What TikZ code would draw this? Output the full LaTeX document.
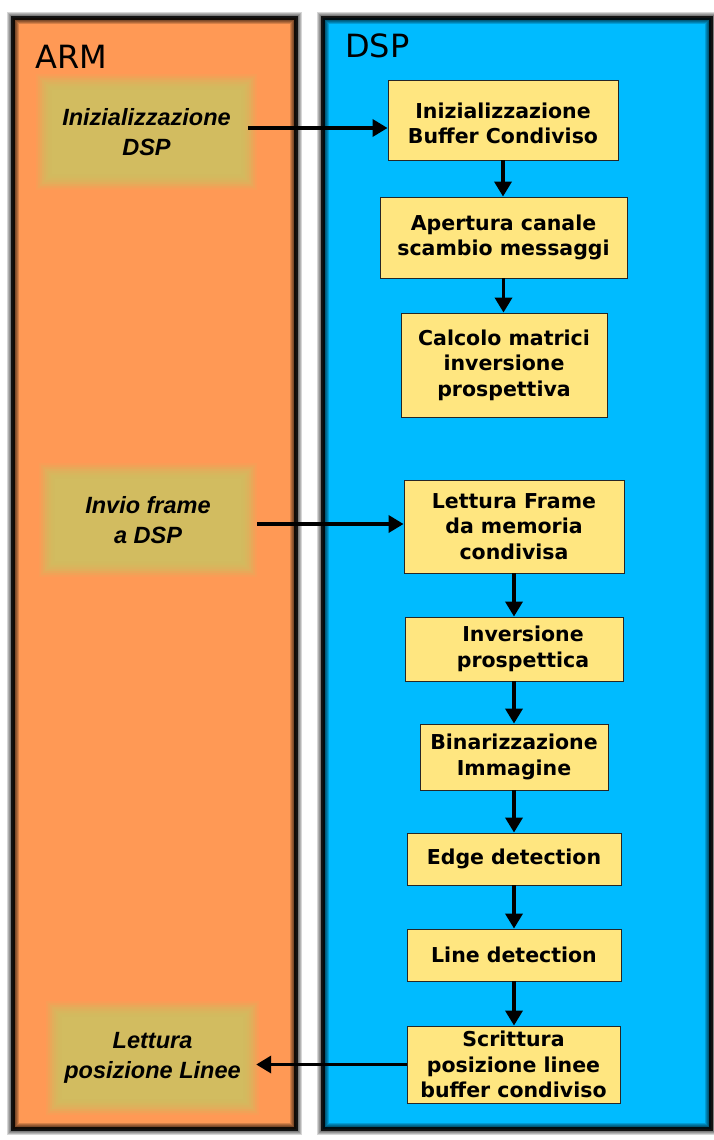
\documentclass[tikz,border=0pt]{standalone}
\usepackage{fontspec}
\usetikzlibrary{arrows.meta}
\newfontfamily\dejavu{DejaVu Sans}
\newfontfamily\libsans{Liberation Sans}
\definecolor{armlane}{HTML}{FF9955}
\definecolor{dsplane}{HTML}{00BBFF}
\definecolor{stepfill}{HTML}{FFE680}
\definecolor{armolive}{HTML}{D2BC60}
\pgfdeclarelayer{lanes}
\pgfdeclarelayer{halo}
\pgfsetlayers{lanes,halo,main}

% soft-edged olive background behind an ARM task node
\newcommand\softfill[1]{%
  \begin{pgfonlayer}{halo}
    \foreach \a/\b/\o in {-9/9/0.12,-7/7/0.18,-5/5/0.25,-3/3/0.3,-1/1/0.35,1/-1/0.4,3/-3/0.5,5/-5/0.6}{
      \fill[armolive,opacity=\o] ([shift={(\a pt,\b pt)}]#1.north west) rectangle ([shift={(\b pt,\a pt)}]#1.south east);
    }
    \fill[armolive] ([shift={(7pt,-7pt)}]#1.north west) rectangle ([shift={(-7pt,7pt)}]#1.south east);
  \end{pgfonlayer}}

\begin{document}
\begin{tikzpicture}[x=1pt,y=-1pt,
  dspstep/.style={draw=black!85,line width=0.9pt,fill=stepfill,align=center,inner sep=0pt,
    font=\dejavu\bfseries\fontsize{20.5}{25.5}\selectfont},
  armtask/.style={align=center,inner sep=0pt,
    font=\libsans\bfseries\itshape\fontsize{23.5}{29.5}\selectfont},
  lanelabel/.style={anchor=base west,inner sep=0pt,font=\dejavu\fontsize{32}{38}\selectfont},
  flow/.style={line width=3.5pt,-{Triangle[length=15pt,width=17pt]}}]
\useasboundingbox (0,0) rectangle (713,1140);

% swim lanes with soft dark borders
\begin{pgfonlayer}{lanes}
  \fill[white] (0,0) rectangle (713,1140);
  \fill[armlane] (13,18) rectangle (296,1129);
  \fill[dsplane] (323,18) rectangle (711,1129);
  \foreach \w in {12,10,8,6}{
    \draw[line width=\w pt,opacity=0.16] (13,18) rectangle (296,1129);
    \draw[line width=\w pt,opacity=0.16] (323,18) rectangle (711,1129);
  }
  \draw[line width=4pt,opacity=0.85] (13,18) rectangle (296,1129);
  \draw[line width=4pt,opacity=0.85] (323,18) rectangle (711,1129);
\end{pgfonlayer}

\node[lanelabel] (armlbl) at (35,68) {ARM};
\node[lanelabel] (dsplbl) at (345,58) {DSP};

% ARM side tasks
\node[armtask,minimum width=203pt,minimum height=97pt] (a1) at (146.5,132) {Inizializzazione\\DSP};
\node[armtask,minimum width=200pt,minimum height=95pt] (a2) at (148,520) {Invio frame\\a DSP};
\node[armtask,minimum width=195pt,minimum height=96pt] (a3) at (152.5,1058) {Lettura\\posizione Linee};
\softfill{a1}
\softfill{a2}
\softfill{a3}

% DSP side steps
\node[dspstep,minimum width=230pt,minimum height=80pt] (r1) at (503,120) {\rule{0pt}{22pt}Inizializzazione\\Buffer Condiviso};
\node[dspstep,minimum width=247pt,minimum height=81pt] (r2) at (503.5,237.5) {Apertura canale\\scambio messaggi};
\node[dspstep,minimum width=206pt,minimum height=104pt] (r3) at (504,365) {Calcolo matrici\\inversione\\prospettiva};
\node[dspstep,minimum width=220pt,minimum height=93pt] (r4) at (514,526.5) {Lettura Frame\\da memoria\\condivisa};
\node[dspstep,minimum width=218pt,minimum height=64pt] (r5) at (514,649) {\hspace*{18pt}Inversione\\\hspace*{18pt}prospettica};
\node[dspstep,minimum width=188pt,minimum height=66pt] (r6) at (514,757) {Binarizzazione\\Immagine};
\node[dspstep,minimum width=214pt,minimum height=52pt] (r7) at (514,859) {Edge detection};
\node[dspstep,minimum width=214pt,minimum height=52pt] (r8) at (514,955) {Line detection};
\node[dspstep,minimum width=213pt,minimum height=77pt] (r9) at (513.5,1064.5) {Scrittura\\posizione linee\\buffer condiviso};

% DSP flow
\draw[flow] (r1.south) -- (r1.south |- r2.north);
\draw[flow] (r2.south) -- (r2.south |- r3.north);
\draw[flow] (r4.south) -- (r4.south |- r5.north);
\draw[flow] (r5.south) -- (r5.south |- r6.north);
\draw[flow] (r6.south) -- (r6.south |- r7.north);
\draw[flow] (r7.south) -- (r7.south |- r8.north);
\draw[flow] (r8.south) -- (r8.south |- r9.north);

% messages between ARM and DSP
\coordinate (t1) at ([yshift=-8pt]r1.west);
\draw[flow] (a1.east |- t1) -- (t1);
\coordinate (t2) at ([yshift=2.5pt]r4.west);
\coordinate (s2) at ([xshift=9pt]a2.east);
\draw[flow] (s2 |- t2) -- (t2);
\coordinate (s3) at ([xshift=6pt]a3.east);
\draw[flow] (r9.west) -- (s3 |- r9.west);
\end{tikzpicture}
\end{document}
